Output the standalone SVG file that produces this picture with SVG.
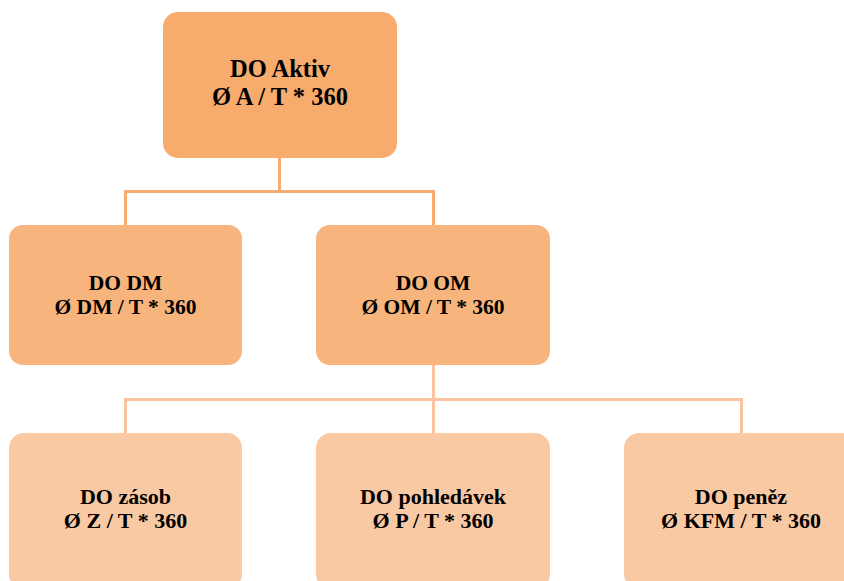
<svg xmlns="http://www.w3.org/2000/svg" width="844" height="581" viewBox="0 0 844 581">
<style>
.t{font-family:'Liberation Serif','DejaVu Serif','Times New Roman',serif;font-weight:bold;fill:#000;text-anchor:middle}
.l1{fill:#F7AB6D}
.l2{fill:#F8B47D}
.l3{fill:#F9C9A3}
.c1{fill:none;stroke:#F7AC73;stroke-width:3}
.c2{fill:none;stroke:#F9C3A0;stroke-width:3}
</style>
<rect width="844" height="581" fill="#fff"/>
<g id="connectors">
<path class="c1" d="M279.5 158V191.5M125.5 225V191.5H433.5V225"/>
<path class="c2" d="M433.5 365V399.5M125.5 433V399.5H741.5V433M433.5 399.5V433"/>
</g>
<g id="n-aktiv">
<rect class="l1" x="163" y="12" width="234" height="146" rx="15"/>
<text class="t" x="280" y="77" font-size="24.5">DO Aktiv</text>
<text class="t" x="280" y="105" font-size="24.5">Ø A / T * 360</text>
</g>
<g id="n-dm">
<rect class="l2" x="9" y="225" width="233" height="140" rx="14"/>
<text class="t" x="125.5" y="290" font-size="21.5">DO DM</text>
<text class="t" x="125.5" y="314" font-size="21.5">Ø DM / T * 360</text>
</g>
<g id="n-om">
<rect class="l2" x="316" y="225" width="234" height="140" rx="14"/>
<text class="t" x="433" y="290" font-size="21.5">DO OM</text>
<text class="t" x="433" y="314" font-size="21.5">Ø OM / T * 360</text>
</g>
<g id="n-zasob">
<rect class="l3" x="9" y="433" width="233" height="156" rx="15"/>
<text class="t" x="125.5" y="504" font-size="22">DO zásob</text>
<text class="t" x="125.5" y="528" font-size="22">Ø Z / T * 360</text>
</g>
<g id="n-pohledavek">
<rect class="l3" x="316" y="433" width="234" height="156" rx="15"/>
<text class="t" x="433" y="504" font-size="22">DO pohledávek</text>
<text class="t" x="433" y="528" font-size="22">Ø P / T * 360</text>
</g>
<g id="n-penez">
<rect class="l3" x="624" y="433" width="234" height="156" rx="15"/>
<text class="t" x="741" y="504" font-size="22">DO peněz</text>
<text class="t" x="741" y="528" font-size="22">Ø KFM / T * 360</text>
</g>
</svg>
